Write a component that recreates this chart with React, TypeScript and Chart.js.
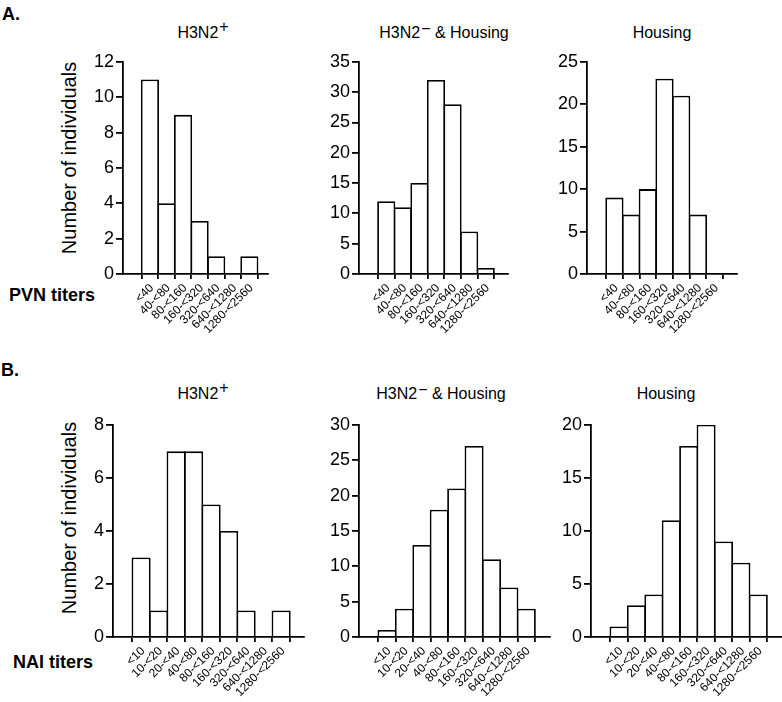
import React, { useEffect, useRef } from "react";
import { Chart, registerables } from "chart.js";
Chart.register(...registerables);

const FONT = "'Liberation Sans', Arial, Helvetica, sans-serif";

// Categories
const pvnLabels = ["<40", "40-<80", "80-<160", "160-<320", "320-<640", "640-<1280", "1280-<2560"];
const naiLabels = ["<10", "10-<20", "20-<40", "40-<80", "80-<160", "160-<320", "320-<640", "640-<1280", "1280-<2560"];

// Series values (number of individuals)
const pvnH3N2Pos = [11, 4, 9, 3, 1, 0, 1];
const pvnH3N2NegHousing = [12, 11, 15, 32, 28, 7, 1];
const pvnHousing = [9, 7, 10, 23, 21, 7, 0];
const naiH3N2Pos = [3, 1, 7, 7, 5, 4, 1, 0, 1];
const naiH3N2NegHousing = [1, 4, 13, 18, 21, 27, 11, 7, 4];
const naiHousing = [1, 3, 4, 11, 18, 20, 9, 7, 4];

// Y axis tick definitions [max, step]
const yTicksA1 = [12, 2];
const yTicksA2 = [35, 5];
const yTicksA3 = [25, 5];
const yTicksB1 = [8, 2];
const yTicksB2 = [30, 5];
const yTicksB3 = [20, 5];

const BW = 1.8;
const AXW = 1.8;
const YW = 45;
const TOP_PAD = 12;
const XH = 70;

type PanelProps = {
  labels: string[];
  values: number[];
  yTicks: number[];
  xMax: number;
  PL: number;
  PR: number;
  PT: number;
  PB: number;
  padRight: number;
};

function Panel(p: PanelProps) {
  const ref = useRef<HTMLCanvasElement>(null);
  const width = YW + (p.PR - p.PL) + p.padRight;
  const height = TOP_PAD + (p.PB - p.PT) + XH;
  useEffect(() => {
    const ppu = (p.PR - p.PL) / (p.xMax + 1);
    const chart = new Chart(ref.current as HTMLCanvasElement, {
      type: "bar",
      data: {
        datasets: [
          {
            data: p.values.map((v, i) => ({ x: i, y: v })),
            backgroundColor: "#ffffff",
            borderColor: "#000000",
            borderWidth: BW,
            borderSkipped: "bottom",
            inflateAmount: 0,
            barPercentage: 1 + BW / ppu,
            categoryPercentage: 1,
          } as any,
        ],
      },
      options: {
        responsive: false,
        animation: false,
        devicePixelRatio: 1,
        layout: { padding: { top: TOP_PAD, right: p.padRight, left: 0, bottom: 0 } },
        plugins: { legend: { display: false }, tooltip: { enabled: false }, title: { display: false } },
        scales: {
          x: {
            type: "linear",
            min: -1,
            max: p.xMax,
            afterBuildTicks: (s: any) => {
              s.ticks = p.labels.map((_, i) => ({ value: i }));
            },
            afterFit: (s: any) => {
              s.height = XH;
            },
            ticks: {
              autoSkip: false,
              maxRotation: 45,
              minRotation: 45,
              font: { size: 12, family: FONT },
              color: "#000",
              padding: 2,
              labelOffset: 2,
              callback: (_v: any, i: number) => p.labels[i],
            },
            grid: { drawOnChartArea: false, drawTicks: true, tickLength: 5, color: "#000", lineWidth: AXW },
            border: { display: true, color: "#000", width: AXW },
          },
          y: {
            min: 0,
            max: p.yTicks[0],
            afterFit: (s: any) => {
              s.width = YW;
            },
            ticks: {
              stepSize: p.yTicks[1],
              font: { size: 18, family: FONT },
              color: "#000",
              padding: 2,
            },
            grid: { drawOnChartArea: false, drawTicks: true, tickLength: 7, color: "#000", lineWidth: AXW },
            border: { display: true, color: "#000", width: AXW },
          },
        },
      } as any,
    });
    return () => chart.destroy();
  }, []);
  return (
    <div style={{ position: "absolute", left: p.PL - YW, top: p.PT - TOP_PAD, width, height }}>
      <canvas ref={ref} width={width} height={height} style={{ width, height, display: "block" }} />
    </div>
  );
}

type TxtProps = {
  x: number;
  y: number;
  size: number;
  bold?: boolean;
  center?: boolean;
  rotate?: boolean;
  children: React.ReactNode;
};

function Txt({ x, y, size, bold, center, rotate, children }: TxtProps) {
  let transform = `translate(${center || rotate ? "-50%" : "0"}, -50%)`;
  if (rotate) transform += " rotate(-90deg)";
  return (
    <div
      style={{
        position: "absolute",
        left: x,
        top: y,
        transform,
        whiteSpace: "nowrap",
        lineHeight: 1,
        fontFamily: FONT,
        fontSize: size,
        fontWeight: bold ? "bold" : "normal",
        color: "#000",
      }}
    >
      {children}
    </div>
  );
}

const Sup = ({ children, top }: { children: React.ReactNode; top: number }) => (
  <span style={{ position: "relative", top, fontSize: 16, marginLeft: 1 }}>{children}</span>
);

export default function App() {
  return (
    <div style={{ position: "absolute", left: 0, top: 0, width: 782, height: 702, overflow: "hidden", background: "#fff" }}>
      <Txt x={2} y={13.5} size={18} bold>A.</Txt>
      <Txt x={1} y={370} size={18} bold>B.</Txt>
      <Txt x={9} y={295} size={18} bold>PVN titers</Txt>
      <Txt x={13} y={661.5} size={18} bold>NAI titers</Txt>
      <Txt x={69} y={157.5} size={20} rotate>Number of individuals</Txt>
      <Txt x={69} y={517.5} size={20} rotate>Number of individuals</Txt>

      <Txt x={203} y={33} size={16} center>H3N2<Sup top={-6}>+</Sup></Txt>
      <Txt x={444} y={33} size={16} center>H3N2<Sup top={-4}>−</Sup> &amp; Housing</Txt>
      <Txt x={662} y={33} size={16} center>Housing</Txt>
      <Txt x={203} y={394} size={16} center>H3N2<Sup top={-6}>+</Sup></Txt>
      <Txt x={441} y={394} size={16} center>H3N2<Sup top={-4}>−</Sup> &amp; Housing</Txt>
      <Txt x={666} y={394} size={16} center>Housing</Txt>

      <Panel labels={pvnLabels} values={pvnH3N2Pos} yTicks={yTicksA1} xMax={6.5} PL={123} PR={268} PT={61} PB={274} padRight={8} />
      <Panel labels={pvnLabels} values={pvnH3N2NegHousing} yTicks={yTicksA2} xMax={6.7} PL={359} PR={508} PT={61} PB={274} padRight={8} />
      <Panel labels={pvnLabels} values={pvnHousing} yTicks={yTicksA3} xMax={6.7} PL={587} PR={737} PT={61} PB={274} padRight={8} />
      <Panel labels={naiLabels} values={naiH3N2Pos} yTicks={yTicksB1} xMax={8.7} PL={113} PR={304} PT={424} PB={637} padRight={8} />
      <Panel labels={naiLabels} values={naiH3N2NegHousing} yTicks={yTicksB2} xMax={8.75} PL={359} PR={550} PT={424} PB={637} padRight={8} />
      <Panel labels={naiLabels} values={naiHousing} yTicks={yTicksB3} xMax={8.75} PL={591} PR={782} PT={424} PB={637} padRight={0} />
    </div>
  );
}
